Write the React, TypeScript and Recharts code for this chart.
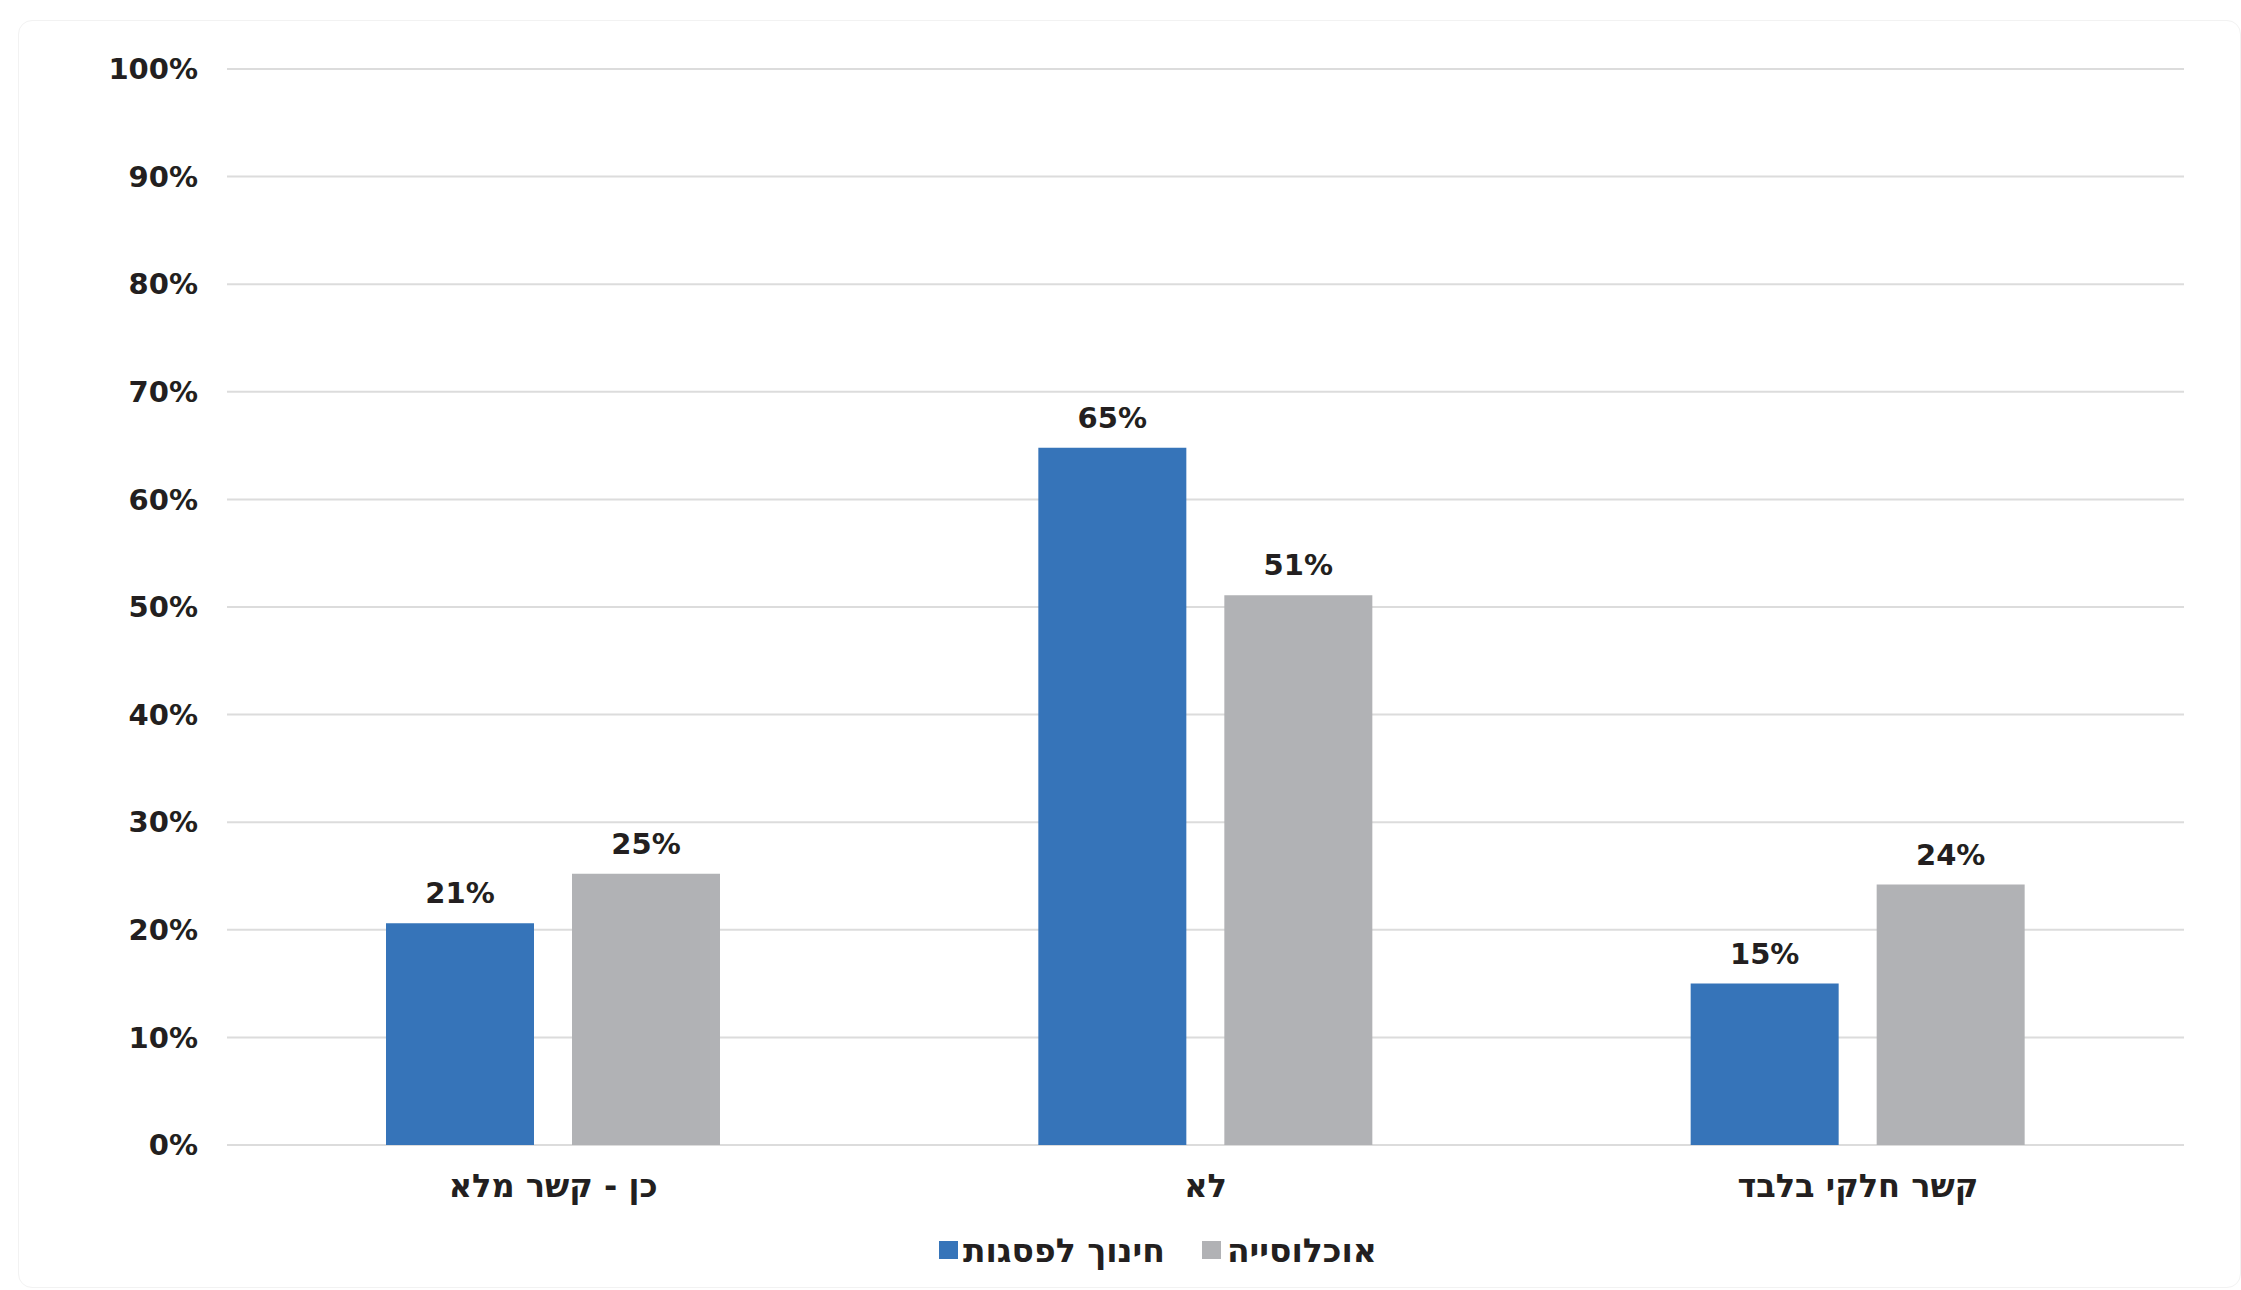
import React from "react";
import { BarChart, Bar, XAxis, YAxis, CartesianGrid, LabelList } from "recharts";

const categories = ["כן - קשר מלא", "לא", "קשר חלקי בלבד"];
const seriesNames = ["חינוך לפסגות", "אוכלוסייה"];
const educationValues = [20.6, 64.8, 15.0];
const populationValues = [25.2, 51.1, 24.2];
const yTicks = [0, 10, 20, 30, 40, 50, 60, 70, 80, 90, 100];

const BLUE = "#3674B9";
const GRAY = "#B1B2B5";
const TEXT = "#231F20";
const FONT = "'DejaVu Sans', Verdana, sans-serif";

const data = categories.map((c, i) => ({
  name: c,
  edu: educationValues[i],
  pop: populationValues[i],
}));

const fmt = (v: any) => `${Math.round(Number(v))}%`;

export default function App() {
  return (
    <div
      style={{
        position: "absolute",
        left: 0,
        top: 0,
        width: 2241,
        height: 1290,
        background: "#fff",
        fontFamily: FONT,
      }}
    >
      <div
        style={{
          position: "absolute",
          left: 18,
          top: 20,
          width: 2241 - 18,
          height: 1290 - 22,
          border: "1px solid #f2f2f2",
          borderRadius: 14,
          boxSizing: "border-box",
        }}
      />
      <div style={{ position: "absolute", left: 0, top: 0 }}>
        <BarChart
          width={2241}
          height={1290}
          data={data}
          margin={{ top: 69, right: 57, left: 0, bottom: 85 }}
          barSize={148}
          barGap={38}
        >
          <CartesianGrid vertical={false} stroke="#DCDCDC" strokeWidth={2} />
          <XAxis
            dataKey="name"
            height={60}
            axisLine={false}
            tickLine={false}
            tickSize={0}
            tickMargin={29}
            interval={0}
            tick={{ fill: TEXT, fontSize: 32, fontWeight: "bold", fontFamily: FONT }}
          />
          <YAxis
            width={227}
            domain={[0, 100]}
            ticks={yTicks}
            interval={0}
            axisLine={false}
            tickLine={false}
            tickSize={0}
            tickMargin={29}
            tickFormatter={(v: number) => `${v}%`}
            tick={{ fill: TEXT, fontSize: 29, fontWeight: "bold", fontFamily: FONT }}
          />
          <Bar dataKey="edu" fill={BLUE} isAnimationActive={false}>
            <LabelList
              dataKey="edu"
              position="top"
              offset={20}
              formatter={fmt}
              style={{ fill: TEXT, fontSize: 29, fontWeight: "bold", fontFamily: FONT }}
            />
          </Bar>
          <Bar dataKey="pop" fill={GRAY} isAnimationActive={false}>
            <LabelList
              dataKey="pop"
              position="top"
              offset={20}
              formatter={fmt}
              style={{ fill: TEXT, fontSize: 29, fontWeight: "bold", fontFamily: FONT }}
            />
          </Bar>
        </BarChart>
      </div>
      <div
        style={{
          position: "absolute",
          left: 939,
          top: 1230,
          height: 40,
          display: "flex",
          alignItems: "center",
          fontSize: 33,
          fontWeight: "bold",
          color: TEXT,
          fontFamily: FONT,
          whiteSpace: "nowrap",
        }}
      >
        <span style={{ width: 19, height: 18, background: BLUE, display: "inline-block", marginRight: 5 }} />
        <span style={{ direction: "rtl", unicodeBidi: "isolate" }}>{seriesNames[0]}</span>
        <span style={{ width: 19, height: 18, background: GRAY, display: "inline-block", marginLeft: 37, marginRight: 6 }} />
        <span style={{ direction: "rtl", unicodeBidi: "isolate" }}>{seriesNames[1]}</span>
      </div>
    </div>
  );
}
